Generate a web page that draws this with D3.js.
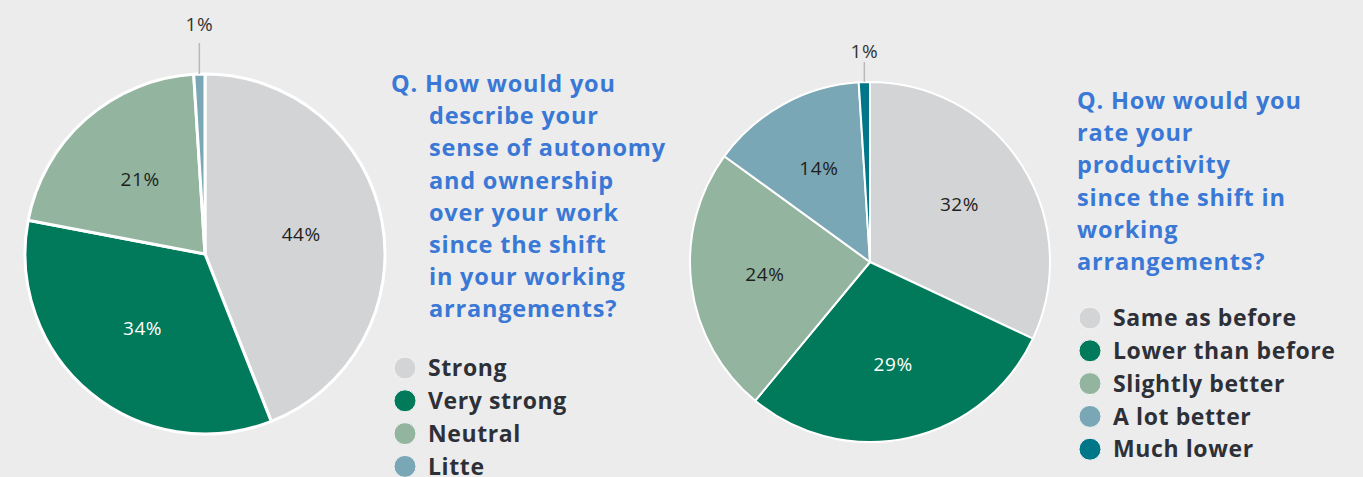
<!DOCTYPE html>
<html>
<head>
<meta charset="utf-8">
<script src="https://cdn.jsdelivr.net/npm/d3@7"></script>
<style>
  html, body { margin: 0; padding: 0; background: #ececec; }
  svg { display: block; }
  .q { font-family: "Open Sans", sans-serif; font-weight: 700; font-size: 23.5px; letter-spacing: 0.8px; fill: #3a78d6; }
  .legend-label { font-family: "Open Sans", sans-serif; font-weight: 700; font-size: 23px; letter-spacing: 0.6px; fill: #2e3038; }
  .pct { font-family: "Open Sans", sans-serif; font-weight: 400; font-size: 19px; letter-spacing: 0.6px; }
</style>
</head>
<body>
<div id="chart"></div>
<script>
// survey 1: autonomy
const autonomyCategories = ["Strong", "Very strong", "Neutral", "Litte"];
const autonomyValues = [44, 34, 21, 1];
const autonomyQuestion = [
  "Q. How would you",
  "describe your",
  "sense of autonomy",
  "and ownership",
  "over your work",
  "since the shift",
  "in your working",
  "arrangements?",
];

// survey 2: productivity
const productivityCategories = ["Same as before", "Lower than before", "Slightly better", "A lot better", "Much lower"];
const productivityValues = [32, 29, 24, 14, 1];
const productivityQuestion = [
  "Q. How would you",
  "rate your",
  "productivity",
  "since the shift in",
  "working",
  "arrangements?",
];

const palette = ["#d3d4d6", "#007a5a", "#93b5a0", "#7aa7b5", "#007689"];
const darkSlices = new Set(["#007a5a"]);

const width = 1363;
const height = 477;

const svg = d3.select("#chart")
  .append("svg")
  .attr("width", width)
  .attr("height", height)
  .attr("viewBox", [0, 0, width, height]);

svg.append("rect").attr("width", width).attr("height", height).attr("fill", "#ececec");

function drawPie({ categories, values, question, cx, cy, r, stroke, labelR, leader, qx, qy, qIndent, legendX, legendY }) {
  const g = svg.append("g").attr("transform", `translate(${cx},${cy})`);
  const color = d3.scaleOrdinal().domain(categories).range(palette);

  const pie = d3.pie().sort(null).value((d) => d.value);
  const arcs = pie(categories.map((c, i) => ({ category: c, value: values[i] })));
  const arc = d3.arc().innerRadius(0).outerRadius(r);
  const labelArc = d3.arc().innerRadius(labelR).outerRadius(labelR);

  g.selectAll("path.slice")
    .data(arcs)
    .join("path")
    .attr("class", "slice")
    .attr("d", arc)
    .attr("fill", (d) => color(d.data.category))
    .attr("stroke", "#fff")
    .attr("stroke-width", stroke)
    .attr("stroke-linejoin", "round");

  // big slices get an inside label, tiny ones a leader line above
  const inside = arcs.filter((d) => d.data.value >= 5);
  const outside = arcs.filter((d) => d.data.value < 5);

  g.selectAll("text.inside")
    .data(inside)
    .join("text")
    .attr("class", "pct")
    .attr("transform", (d) => `translate(${labelArc.centroid(d)})`)
    .attr("text-anchor", "middle")
    .attr("dy", "0.3em")
    .attr("fill", (d) => (darkSlices.has(color(d.data.category)) ? "#fff" : "#1e1e1e"))
    .text((d) => d.data.value + "%");

  outside.forEach((d) => {
    const a = (d.startAngle + d.endAngle) / 2;
    const lx = r * Math.sin(a);
    g.append("line")
      .attr("x1", lx).attr("x2", lx)
      .attr("y1", -r).attr("y2", -r - leader.len)
      .attr("stroke", "#b9b9b9")
      .attr("stroke-width", 1.5);
    g.append("text")
      .attr("class", "pct")
      .attr("x", lx)
      .attr("y", -r - leader.label)
      .attr("dy", "0.35em")
      .attr("text-anchor", "middle")
      .attr("fill", "#333")
      .text(d.data.value + "%");
  });

  const qt = svg.append("text").attr("class", "q");
  qt.selectAll("tspan")
    .data(question)
    .join("tspan")
    .attr("x", (d, i) => (i === 0 ? qx : qx + qIndent))
    .attr("y", (d, i) => qy + i * 32.2)
    .text((d) => d);

  const lg = svg.append("g").attr("transform", `translate(${legendX},${legendY})`);
  const item = lg.selectAll("g")
    .data(categories)
    .join("g")
    .attr("transform", (d, i) => `translate(0,${i * 32.8})`);
  item.append("circle")
    .attr("r", 11)
    .attr("fill", (d) => color(d))
    .attr("stroke", "#f4f4f4")
    .attr("stroke-width", 1);
  item.append("text")
    .attr("class", "legend-label")
    .attr("x", 23)
    .attr("dy", "0.36em")
    .text((d) => d);
}

drawPie({
  categories: autonomyCategories,
  values: autonomyValues,
  question: autonomyQuestion,
  cx: 205, cy: 254, r: 180, stroke: 3, labelR: 98,
  leader: { len: 31, label: 50 },
  qx: 391, qy: 92, qIndent: 38,
  legendX: 405, legendY: 368,
});

drawPie({
  categories: productivityCategories,
  values: productivityValues,
  question: productivityQuestion,
  cx: 870, cy: 262, r: 180, stroke: 2, labelR: 106,
  leader: { len: 20, label: 31 },
  qx: 1077, qy: 109, qIndent: 0,
  legendX: 1090, legendY: 318,
});
</script>
</body>
</html>
